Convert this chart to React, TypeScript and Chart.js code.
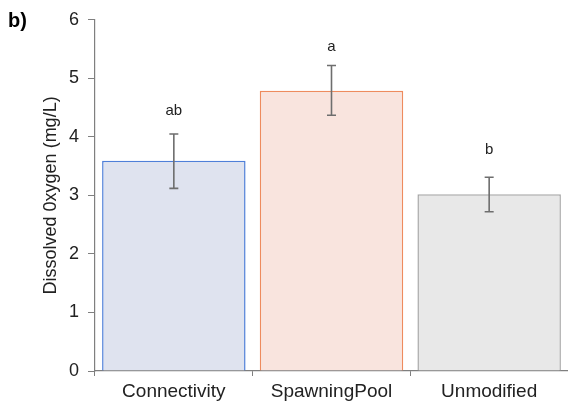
import React, { useEffect, useRef } from "react";
import { Chart, registerables } from "chart.js";

Chart.register(...registerables);

const categories = ["Connectivity", "SpawningPool", "Unmodified"];
const means = [3.59, 4.79, 3.02];
const errLow = [3.12, 4.37, 2.72];
const errHigh = [4.05, 5.22, 3.31];
const letters = ["ab", "a", "b"];
const letterY = [4.44, 5.54, 3.77];
const fillColors = ["#DFE3EF", "#F9E4DE", "#E8E8E8"];
const borderColors = ["#4F7FD8", "#EE8B5E", "#A8A8A8"];
const yTicks = [0, 1, 2, 3, 4, 5, 6];

const FONT = "'Liberation Sans', Arial, sans-serif";
const AXIS = "#7f7f7f";

const overlay = {
  id: "overlay",
  afterDatasetsDraw(chart: any) {
    const { ctx, scales } = chart;
    const xs = scales.x;
    const ys = scales.y;
    ctx.save();
    ctx.strokeStyle = "#6e6e6e";
    ctx.lineWidth = 1.6;
    for (let i = 0; i < categories.length; i++) {
      const x = xs.getPixelForValue(i);
      const y1 = ys.getPixelForValue(errHigh[i]);
      const y0 = ys.getPixelForValue(errLow[i]);
      ctx.beginPath();
      ctx.moveTo(x, y1);
      ctx.lineTo(x, y0);
      ctx.moveTo(x - 4.5, y1);
      ctx.lineTo(x + 4.5, y1);
      ctx.moveTo(x - 4.5, y0);
      ctx.lineTo(x + 4.5, y0);
      ctx.stroke();
      ctx.fillStyle = "#222";
      ctx.font = `15px ${FONT}`;
      ctx.textAlign = "center";
      ctx.textBaseline = "middle";
      ctx.fillText(letters[i], x, ys.getPixelForValue(letterY[i]));
    }
    ctx.font = `bold 20px ${FONT}`;
    ctx.fillStyle = "#000";
    ctx.textAlign = "left";
    ctx.textBaseline = "middle";
    ctx.fillText("b)", 8, 21);
    ctx.restore();
  },
};

export default function App() {
  const ref = useRef<HTMLCanvasElement>(null);
  useEffect(() => {
    if (!ref.current) return;
    const chart = new Chart(ref.current, {
      type: "bar",
      data: {
        labels: categories,
        datasets: [
          {
            data: means,
            backgroundColor: fillColors,
            borderColor: borderColors,
            borderWidth: 1.5,
            barPercentage: 0.91,
            categoryPercentage: 1,
          },
        ],
      },
      options: {
        animation: false,
        responsive: true,
        maintainAspectRatio: false,
        layout: { padding: { top: 18, right: 0, left: 0, bottom: 0 } },
        plugins: { legend: { display: false }, tooltip: { enabled: false } },
        scales: {
          x: {
            grid: {
              display: true,
              drawOnChartArea: false,
              drawTicks: true,
              tickLength: 5,
              color: AXIS,
              offset: true,
            },
            border: { display: true, color: AXIS, width: 1.2 },
            ticks: {
              color: "#222",
              font: { family: FONT, size: 19 },
              padding: 4,
            },
            afterFit: (s: any) => {
              s.height = 41;
            },
          },
          y: {
            min: 0,
            max: 6,
            afterBuildTicks: (s: any) => {
              s.ticks = yTicks.map((v) => ({ value: v }));
            },
            grid: {
              display: true,
              drawOnChartArea: false,
              drawTicks: true,
              tickLength: 7,
              color: AXIS,
            },
            border: { display: true, color: AXIS, width: 1.2 },
            ticks: {
              color: "#222",
              font: { family: FONT, size: 18 },
              padding: 9,
            },
            title: {
              display: true,
              text: "Dissolved 0xygen (mg/L)",
              color: "#222",
              font: { family: FONT, size: 18 },
              padding: { top: 40, bottom: 0 },
            },
            afterFit: (s: any) => {
              s.width = 95;
            },
          },
        },
      },
      plugins: [overlay],
    });
    return () => chart.destroy();
  }, []);
  return (
    <div style={{ position: "fixed", left: 0, top: 0, width: 568, height: 412 }}>
      <canvas ref={ref} />
    </div>
  );
}
